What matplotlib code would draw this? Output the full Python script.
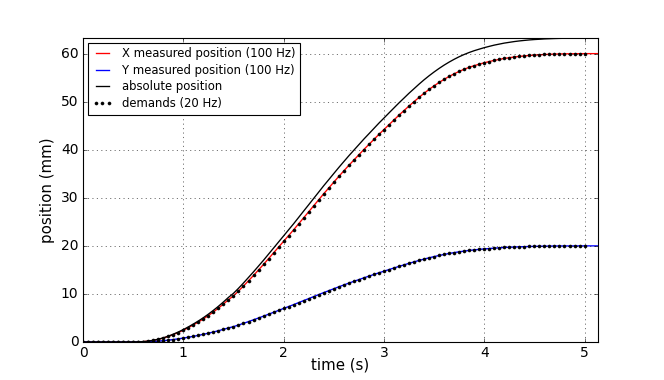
import numpy as np
import matplotlib
matplotlib.use("Agg")
import matplotlib.pyplot as plt

plt.style.use("classic")

# demand sample times (20 Hz) and measured sample times
demand_t = np.arange(0, 101) * 0.05
meas_t = np.arange(0, 104) * 0.05

x_demand = [0, 0, 0, 0, 0, 0, 0, 0, 0, 0, 0.01,
            0.03, 0.08, 0.18, 0.33, 0.55, 0.82, 1.15, 1.55, 1.97, 2.45,
            2.98, 3.55, 4.15, 4.8, 5.5, 6.25, 7.05, 7.9, 8.8, 9.6,
            10.6, 11.65, 12.75, 13.85, 15.0, 16.15, 17.35, 18.55, 19.75, 20.95,
            22.15, 23.35, 24.6, 25.85, 27.1, 28.35, 29.6, 30.85, 32.05, 33.25,
            34.45, 35.6, 36.75, 37.85, 38.95, 40.05, 41.1, 42.15, 43.2, 44.2,
            45.2, 46.2, 47.2, 48.15, 49.1, 50.0, 50.9, 51.75, 52.55, 53.3,
            54.0, 54.65, 55.25, 55.8, 56.3, 56.75, 57.15, 57.5, 57.8, 58.1,
            58.35, 58.6, 58.8, 59.0, 59.15, 59.3, 59.42, 59.53, 59.62, 59.7,
            59.76, 59.82, 59.86, 59.9, 59.93, 59.95, 59.97, 59.98, 59.99, 60.0]

y_demand = [0, 0, 0, 0, 0, 0, 0, 0, 0, 0, 0.0,
            0.01, 0.03, 0.06, 0.11, 0.18, 0.27, 0.38, 0.52, 0.66, 0.82,
            0.99, 1.18, 1.38, 1.6, 1.83, 2.08, 2.35, 2.63, 2.93, 3.2,
            3.53, 3.88, 4.25, 4.62, 5.0, 5.38, 5.78, 6.18, 6.58, 6.98,
            7.38, 7.78, 8.2, 8.62, 9.03, 9.45, 9.87, 10.28, 10.68, 11.08,
            11.48, 11.87, 12.25, 12.62, 12.98, 13.35, 13.7, 14.05, 14.4, 14.73,
            15.07, 15.4, 15.73, 16.05, 16.37, 16.67, 16.97, 17.25, 17.52, 17.77,
            18.0, 18.22, 18.42, 18.6, 18.77, 18.92, 19.05, 19.17, 19.27, 19.37,
            19.45, 19.53, 19.6, 19.67, 19.72, 19.77, 19.81, 19.84, 19.87, 19.9,
            19.92, 19.94, 19.95, 19.97, 19.98, 19.98, 19.99, 19.99, 20.0, 20.0]

# measured positions (same trajectory, continuing after t = 5 s)
x_meas = x_demand + [60.0, 60.0, 60.0]
y_meas = y_demand + [20.0, 20.0, 20.0]

abs_pos = [0, 0, 0, 0, 0, 0, 0, 0, 0, 0, 0.01,
           0.03, 0.08, 0.19, 0.35, 0.58, 0.86, 1.21, 1.63, 2.08, 2.58,
           3.14, 3.74, 4.37, 5.06, 5.8, 6.59, 7.43, 8.33, 9.28, 10.12,
           11.17, 12.28, 13.44, 14.6, 15.81, 17.02, 18.29, 19.55, 20.82, 22.08,
           23.35, 24.61, 25.93, 27.25, 28.56, 29.88, 31.2, 32.52, 33.78, 35.05,
           36.31, 37.53, 38.74, 39.9, 41.06, 42.22, 43.32, 44.43, 45.54, 46.59,
           47.65, 48.7, 49.75, 50.75, 51.76, 52.7, 53.65, 54.55, 55.39, 56.18,
           56.92, 57.61, 58.24, 58.82, 59.35, 59.82, 60.24, 60.61, 60.93, 61.24,
           61.51, 61.77, 61.98, 62.19, 62.35, 62.51, 62.64, 62.75, 62.85, 62.93,
           62.99, 63.06, 63.1, 63.14, 63.17, 63.19, 63.21, 63.22, 63.23, 63.25,
           63.25, 63.25, 63.25]

fig = plt.figure(figsize=(8.3, 4.75), dpi=80, facecolor="white")
ax = fig.add_subplot(111)

ax.plot(meas_t, x_meas, color="r", lw=1.2, label="X measured position (100 Hz)")
ax.plot(meas_t, y_meas, color="b", lw=1.2, label="Y measured position (100 Hz)")
ax.plot(meas_t, abs_pos, color="k", lw=1.2, label="absolute position")
ax.plot(demand_t, x_demand, "k.", ms=5.5, label="demands (20 Hz)")
ax.plot(demand_t, y_demand, "k.", ms=5.5)

ax.set_xlim(0, 5.13)
ax.set_ylim(0, 63.25)
ax.set_xticks([0, 1, 2, 3, 4, 5])
ax.set_yticks([0, 10, 20, 30, 40, 50, 60])
ax.tick_params(labelsize=12.5)
ax.grid(True)
ax.set_xlabel("time (s)", fontsize=13.5, labelpad=-3)
ax.set_ylabel("position (mm)", fontsize=13.5)
ax.legend(loc="upper left", fontsize=10.5, numpoints=3, handlelength=1.7,
          labelspacing=0.3, borderaxespad=0.4)

fig.savefig("out.png", dpi=80, facecolor="white")
